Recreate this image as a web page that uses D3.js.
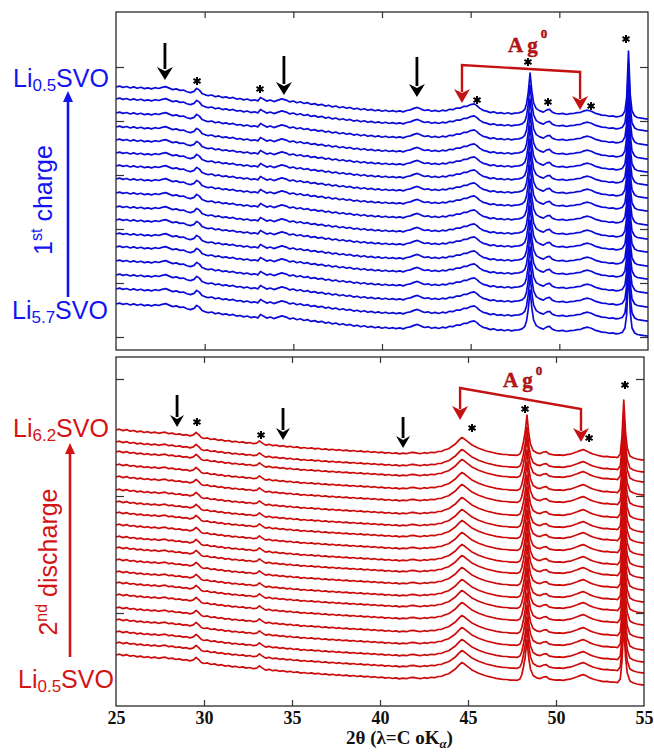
<!DOCTYPE html>
<html><head><meta charset="utf-8">
<script src="https://cdn.jsdelivr.net/npm/d3@7"></script>
<style>body{margin:0;background:#fff}</style>
</head><body><svg id="c" width="654" height="752"></svg>
<script>
// ---------- DATA ----------
const xDomain = [25, 55];
const xTickLabels = [25, 30, 35, 40, 45, 50, 55];
const xInnerTicks = [30, 35, 40, 45, 50];
const yTicksTop = [0, 54, 108, 162, 216, 270];
const yTicksBot = [93, 210, 327];
// vertical offsets (intensity at 25°) of each stacked pattern, top to bottom
const offsetsTop = [250,238,224,210,197,184,171,158,144,130,117,103,90,76,62,48,33];
const offsetsBot = [276,264,254,241,229,216,204,193,181,169,158,146,134,123,111,98,86,74,63,51];
// pattern shape (2θ, intensity relative to 25°) — 1st charge
const profileTop = [[25.0,0],[25.2,0.9],[25.4,-0.4],[25.6,0.5],[25.8,-1.0],[26.0,0.1],[26.2,-1.3],[26.4,-0.2],[26.6,-1.6],[26.8,-0.9],[27.0,-1.9],[27.2,-0.7],[27.4,-1.5],[27.6,-0.4],[27.8,0.4],[28.0,-1.1],[28.2,-2.6],[28.4,-1.9],[28.6,-3.4],[28.8,-3.1],[29.0,-4.7],[29.2,-5.6],[29.4,-4.4],[29.55,-1.4],[29.7,-3.1],[29.85,-6.4],[30.0,-7.6],[30.2,-8.7],[30.4,-8.0],[30.6,-9.8],[30.8,-8.9],[31.0,-10.6],[31.2,-9.9],[31.4,-11.3],[31.6,-10.4],[31.8,-12.1],[32.0,-11.5],[32.2,-12.9],[32.4,-12.0],[32.6,-13.6],[32.8,-12.8],[33.0,-13.9],[33.15,-10.4],[33.3,-12.1],[33.5,-14.1],[33.7,-13.0],[33.9,-14.6],[34.1,-13.4],[34.35,-11.9],[34.6,-13.1],[34.8,-14.9],[35.0,-14.0],[35.2,-15.7],[35.4,-14.8],[35.6,-16.5],[35.8,-15.6],[36.0,-17.4],[36.2,-16.6],[36.4,-18.1],[36.6,-17.3],[36.8,-19.1],[37.0,-18.2],[37.2,-19.9],[37.4,-19.0],[37.6,-20.7],[37.8,-19.8],[38.0,-21.3],[38.2,-20.4],[38.4,-22.1],[38.6,-21.2],[38.8,-22.8],[39.0,-21.8],[39.2,-23.3],[39.4,-22.4],[39.6,-23.8],[39.8,-22.9],[40.0,-24.2],[40.2,-23.2],[40.4,-24.5],[40.6,-23.6],[40.8,-24.7],[41.0,-23.9],[41.2,-24.9],[41.4,-23.5],[41.6,-22.9],[41.8,-21.4],[42.0,-20.4],[42.2,-22.1],[42.4,-23.5],[42.6,-22.8],[42.8,-24.3],[43.0,-23.4],[43.2,-24.5],[43.4,-23.2],[43.6,-23.9],[43.8,-22.3],[44.0,-22.7],[44.2,-21.0],[44.4,-21.2],[44.6,-19.4],[44.8,-19.3],[45.0,-17.6],[45.2,-16.9],[45.35,-18.6],[45.5,-21.1],[45.7,-23.3],[45.9,-24.1],[46.1,-25.6],[46.3,-24.8],[46.5,-26.3],[46.7,-25.6],[46.9,-26.7],[47.1,-25.8],[47.3,-26.9],[47.5,-26.1],[47.7,-25.9],[47.9,-24.9],[48.05,-22.4],[48.15,-17],[48.25,-5],[48.35,14],[48.45,-4],[48.55,-16],[48.7,-21.6],[48.9,-23.9],[49.1,-25.1],[49.3,-22.9],[49.45,-22.4],[49.6,-25.1],[49.8,-26.5],[50.0,-26.9],[50.2,-26.4],[50.4,-27.5],[50.6,-26.7],[50.8,-26.5],[51.0,-25.7],[51.2,-25.3],[51.4,-23.9],[51.6,-23.2],[51.8,-24.3],[52.0,-26.1],[52.2,-27.1],[52.4,-28.1],[52.6,-28.3],[52.8,-29.3],[53.0,-28.9],[53.2,-29.9],[53.4,-29.3],[53.55,-28.4],[53.7,-24],[53.8,-10],[53.9,36],[54.0,-8],[54.1,-24],[54.25,-29],[54.4,-30.5],[54.6,-31.1],[54.8,-31.7],[55.0,-32.1]];
// pattern shape — 2nd discharge
const profileBot = [[25.0,0],[25.2,0.8],[25.4,-0.6],[25.6,0.4],[25.8,-1.2],[26.0,-0.5],[26.2,-1.9],[26.4,-1.1],[26.6,-2.5],[26.8,-1.7],[27.0,-2.9],[27.2,-2.1],[27.4,-3.3],[27.6,-2.7],[27.8,-2.2],[28.0,-3.7],[28.2,-3.1],[28.4,-4.5],[28.6,-3.9],[28.8,-5.1],[29.0,-4.7],[29.2,-5.9],[29.4,-4.9],[29.55,-2.4],[29.7,-4.6],[29.85,-7.5],[30.0,-8.5],[30.2,-7.9],[30.4,-9.5],[30.6,-8.9],[30.8,-10.3],[31.0,-9.7],[31.2,-11.1],[31.4,-10.5],[31.6,-11.9],[31.8,-11.3],[32.0,-12.5],[32.2,-11.9],[32.4,-13.1],[32.6,-12.5],[32.8,-13.7],[33.0,-13.1],[33.15,-10.9],[33.3,-12.9],[33.5,-15.1],[33.7,-14.3],[33.9,-15.7],[34.1,-15.1],[34.3,-16.3],[34.5,-15.7],[34.7,-16.9],[34.9,-16.3],[35.1,-17.5],[35.3,-16.9],[35.5,-18.1],[35.7,-17.5],[35.9,-18.5],[36.1,-17.9],[36.3,-18.9],[36.5,-18.3],[36.7,-19.5],[36.9,-18.9],[37.1,-19.9],[37.3,-19.3],[37.5,-20.3],[37.7,-19.7],[37.9,-20.7],[38.1,-20.1],[38.3,-21.1],[38.5,-20.5],[38.7,-21.5],[38.9,-20.9],[39.1,-21.9],[39.3,-21.3],[39.5,-22.3],[39.7,-21.7],[39.9,-22.7],[40.1,-22.1],[40.3,-23.1],[40.5,-22.5],[40.7,-23.5],[40.9,-22.9],[41.1,-23.9],[41.3,-23.1],[41.5,-23.7],[41.7,-22.7],[41.9,-22.3],[42.1,-23.1],[42.3,-23.7],[42.5,-22.7],[42.7,-23.3],[42.9,-22.3],[43.1,-22.7],[43.3,-21.5],[43.5,-21.3],[43.7,-19.7],[43.9,-18.7],[44.1,-16.3],[44.3,-13.7],[44.5,-9.9],[44.65,-7.5],[44.8,-9.1],[45.0,-11.9],[45.2,-14.7],[45.4,-16.5],[45.6,-18.3],[45.8,-19.5],[46.0,-20.7],[46.2,-21.7],[46.4,-22.5],[46.6,-23.3],[46.8,-23.9],[47.0,-24.5],[47.2,-24.5],[47.4,-25.1],[47.6,-25.1],[47.8,-25.3],[47.95,-24.0],[48.05,-20],[48.15,-12],[48.25,-2],[48.35,15],[48.45,-3],[48.55,-14],[48.7,-20.5],[48.9,-22.8],[49.1,-23.6],[49.3,-22.0],[49.45,-21.6],[49.6,-23.8],[49.8,-24.6],[50.0,-25.2],[50.2,-24.8],[50.4,-25.4],[50.6,-24.6],[50.8,-24.2],[51.0,-23.0],[51.2,-21.8],[51.4,-20.4],[51.55,-19.6],[51.7,-20.8],[51.9,-22.6],[52.1,-24.0],[52.3,-25.0],[52.5,-25.8],[52.7,-26.6],[52.9,-26.4],[53.1,-27.2],[53.3,-27.0],[53.5,-27.6],[53.65,-24],[53.75,-6],[53.85,30],[53.95,-2],[54.05,-18],[54.2,-26],[54.4,-28.0],[54.6,-29.0],[54.8,-29.6],[55.0,-30.2]];
// annotations (2θ, intensity)
const starsTop = [[29.57,256],[33.12,248],[45.36,237],[48.23,275],[49.36,235],[51.79,231],[53.76,298]];
const starsBot = [[29.6,284],[33.24,271],[45.23,278],[48.24,297],[51.88,268],[53.92,321]];
const arrowsTop = [[27.76,294,257],[34.47,281,242],[41.97,280,240]];
const arrowsBot = [[28.47,311,279],[34.49,298,266],[41.31,289,258]];
const agTop = {left:[44.51,272,234], right:[51.17,265,227]};
const agBot = {left:[44.55,318,286], right:[51.42,297,264]};

// ---------- LAYOUT ----------
const svg = d3.select("#c");
const BLUE = "#0a0ad6", BLUE_T = "#1414f0", RED = "#cc0a0a", RED_T = "#d41414", AGRED = "#c41212";
const panels = [
  {x: d3.scaleLinear().domain(xDomain).range([116, 648]),
   y: d3.scaleLinear().domain([-13, 325]).range([350, 12]),
   top: 12, bottom: 350, left: 116, right: 648,
   yTicks: yTicksTop, offsets: offsetsTop, profile: profileTop, color: BLUE,
   stars: starsTop, arrows: arrowsTop, ag: agTop, head: [8, 13], labels: false},
  {x: d3.scaleLinear().domain(xDomain).range([116, 644]),
   y: d3.scaleLinear().domain([0, 349]).range([706, 357]),
   top: 357, bottom: 706, left: 116, right: 644,
   yTicks: yTicksBot, offsets: offsetsBot, profile: profileBot, color: RED,
   stars: starsBot, arrows: arrowsBot, ag: agBot, head: [7, 12], labels: true}
];

panels.forEach(p => {
  const g = svg.append("g");
  // curves
  p.offsets.forEach(off => {
    const line = d3.line().x(d => p.x(d[0])).y(d => p.y(off + d[1]));
    g.append("path").attr("d", line(p.profile)).attr("fill", "none")
      .attr("stroke", p.color).attr("stroke-width", 1.7).attr("stroke-linejoin", "round");
  });
  // axes (inward ticks)
  const styleAxis = sel => { sel.select(".domain").remove(); sel.selectAll(".tick line").attr("stroke", "#333").attr("stroke-width", 1.2); };
  g.append("g").attr("transform", `translate(0,${p.top})`)
    .call(d3.axisTop(p.x).tickValues(xInnerTicks).tickSize(-6).tickFormat("")).call(styleAxis);
  const bax = g.append("g").attr("transform", `translate(0,${p.bottom})`)
    .call(d3.axisBottom(p.x).tickValues(p.labels ? xTickLabels : xInnerTicks).tickSize(-6).tickPadding(5)
      .tickFormat(p.labels ? d3.format("d") : ""));
  styleAxis(bax);
  bax.selectAll(".tick text").attr("font-family", "Liberation Serif, Times New Roman, serif")
    .attr("font-weight", "bold").attr("font-size", 18).attr("fill", "#111");
  bax.selectAll(".tick").filter(d => d === 25 || d === 55).select("line").remove();
  g.append("g").attr("transform", `translate(${p.left},0)`)
    .call(d3.axisLeft(p.y).tickValues(p.yTicks).tickSize(-8).tickFormat("")).call(styleAxis);
  g.append("g").attr("transform", `translate(${p.right},0)`)
    .call(d3.axisRight(p.y).tickValues(p.yTicks).tickSize(-8).tickFormat("")).call(styleAxis);
  g.append("rect").attr("x", p.left).attr("y", p.top).attr("width", p.right - p.left)
    .attr("height", p.bottom - p.top).attr("fill", "none").attr("stroke", "#2a2a2a").attr("stroke-width", 1.3);
  // stars
  g.selectAll(".star").data(p.stars).join("path")
    .attr("d", d3.symbol().type(d3.symbolAsterisk).size(46))
    .attr("transform", d => `translate(${p.x(d[0])},${p.y(d[1])})`)
    .attr("stroke", "#000").attr("stroke-width", 2).attr("fill", "none");
  // black arrows
  p.arrows.forEach(a => {
    const ax = p.x(a[0]), y0 = p.y(a[1]), y1 = p.y(a[2]);
    const [hw, hl] = p.head;
    g.append("line").attr("x1", ax).attr("x2", ax).attr("y1", y0).attr("y2", y1 - hl + 2)
      .attr("stroke", "#000").attr("stroke-width", 2.8);
    g.append("path").attr("d", `M${ax},${y1}L${ax - hw},${y1 - hl}L${ax},${y1 - hl + 4}L${ax + hw},${y1 - hl}Z`).attr("fill", "#000");
  });
  // Ag bracket
  const L = p.ag.left, R = p.ag.right;
  const lx = p.x(L[0]), rx = p.x(R[0]);
  const ahw = 8, ahl = 14;
  g.append("path").attr("d",
    `M${lx},${p.y(L[2]) - ahl + 3}L${lx},${p.y(L[1])}L${rx},${p.y(R[1])}L${rx},${p.y(R[2]) - ahl + 3}`)
    .attr("fill", "none").attr("stroke", AGRED).attr("stroke-width", 2.4);
  [[lx, p.y(L[2])], [rx, p.y(R[2])]].forEach(([hx, hy]) => {
    g.append("path").attr("d", `M${hx},${hy}L${hx - ahw},${hy - ahl}L${hx},${hy - ahl + 4}L${hx + ahw},${hy - ahl}Z`).attr("fill", AGRED);
  });
});

// Ag labels
const agLabel = (x, y, supDy) => {
  const t = svg.append("text").attr("x", x).attr("y", y)
    .attr("font-family", "Liberation Serif, Times New Roman, serif").attr("font-weight", "bold")
    .attr("font-size", 21).attr("fill", AGRED).attr("stroke", "#7a0a0a").attr("stroke-width", 0.4);
  t.append("tspan").text("A g");
  t.append("tspan").attr("font-size", 13).attr("dx", 3).attr("dy", supDy).text("0");
};
agLabel(508, 52, -14);
agLabel(503, 387, -12);

// side labels
const sideLabel = (x, y, sub, color) => {
  const t = svg.append("text").attr("x", x).attr("y", y)
    .attr("font-family", "Liberation Sans, Arial, sans-serif").attr("font-size", 25).attr("fill", color);
  t.append("tspan").text("Li");
  t.append("tspan").attr("font-size", 17).attr("dy", 4).text(sub);
  t.append("tspan").attr("dy", -4).text("SVO");
};
sideLabel(13, 87, "0.5", BLUE_T);
sideLabel(12, 319, "5.7", BLUE_T);
sideLabel(13, 437, "6.2", RED_T);
sideLabel(18, 688, "0.5", RED_T);

const vArrow = (x, yBottom, yTip, color) => {
  svg.append("line").attr("x1", x).attr("x2", x).attr("y1", yBottom).attr("y2", yTip + 8)
    .attr("stroke", color).attr("stroke-width", 2.6);
  svg.append("path").attr("d", `M${x},${yTip}L${x - 5},${yTip + 11}L${x + 5},${yTip + 11}Z`).attr("fill", color);
};
vArrow(68, 297, 91, BLUE_T);
vArrow(70, 657, 443, RED_T);

const rotLabel = (x, y, num, sup, rest, color) => {
  const t = svg.append("text").attr("transform", `translate(${x},${y}) rotate(-90)`)
    .attr("text-anchor", "middle").attr("font-family", "Liberation Sans, Arial, sans-serif")
    .attr("font-size", 25).attr("fill", color);
  t.append("tspan").text(num);
  t.append("tspan").attr("font-size", 16).attr("dy", -10).text(sup);
  t.append("tspan").attr("dy", 10).text(" " + rest);
};
rotLabel(52, 200, "1", "st", "charge", BLUE_T);
rotLabel(57, 562, "2", "nd", "discharge", RED_T);

// x-axis title
const xt = svg.append("text").attr("x", 346).attr("y", 744)
  .attr("font-family", "Liberation Serif, Times New Roman, serif").attr("font-weight", "bold")
  .attr("font-size", 19).attr("fill", "#111");
xt.append("tspan").text("2θ (λ=C oK");
xt.append("tspan").attr("font-size", 13).attr("font-style", "italic").attr("dy", 4).text("α");
xt.append("tspan").attr("dy", -4).text(")");
</script></body></html>
